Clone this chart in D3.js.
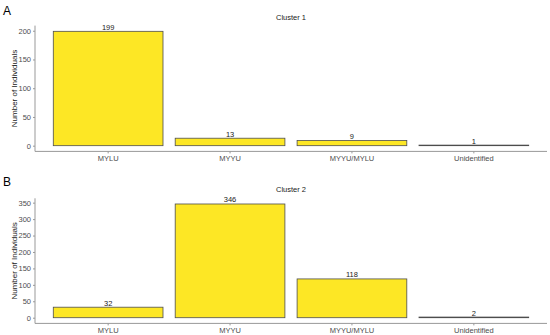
<!DOCTYPE html>
<html><head><meta charset="utf-8">
<script src="https://cdn.jsdelivr.net/npm/d3@7"></script>
<style>body{margin:0;background:#fff;}svg{display:block;font-family:"Liberation Sans",Arial,sans-serif;}</style>
</head><body>
<svg id="c" width="550" height="335"></svg>
<script>
const categories = ["MYLU", "MYYU", "MYYU/MYLU", "Unidentified"];
const cluster1 = [199, 13, 9, 1];
const cluster2 = [32, 346, 118, 2];
const yTicks1 = [0, 50, 100, 150, 200];
const yTicks2 = [0, 50, 100, 150, 200, 250, 300, 350];
const panelLabels = ["A", "B"];
const titles = ["Cluster 1", "Cluster 2"];

const svg = d3.select("#c");
const left = 35, right = 547;

function panel(values, ticks, top, bottom, letter, title, letterY, titleY) {
  const g = svg.append("g");
  const max = d3.max(values);
  const x = d3.scaleBand().domain(categories).range([left, right]).paddingInner(0.1).paddingOuter(0.15);
  const y = d3.scaleLinear().domain([-0.05 * max, max * 1.05]).range([bottom, top]);

  g.selectAll("rect").data(values).join("rect")
    .attr("x", (d, i) => x(categories[i]))
    .attr("width", x.bandwidth())
    .attr("y", d => y(d))
    .attr("height", d => y(0) - y(d))
    .attr("fill", "#FDE725")
    .attr("stroke", "#4d4d4d")
    .attr("stroke-width", 0.8);

  g.selectAll("text.val").data(values).join("text")
    .attr("class", "val")
    .attr("x", (d, i) => x(categories[i]) + x.bandwidth() / 2)
    .attr("y", d => y(d) - 1.5)
    .attr("text-anchor", "middle")
    .attr("font-size", 7.5)
    .attr("fill", "#1a1a1a")
    .text(d => d);

  const ya = g.append("g").attr("transform", `translate(${left},0)`)
    .call(d3.axisLeft(y).tickValues(ticks).tickSize(2).tickPadding(2));
  ya.select(".domain").attr("stroke", "#999").attr("d", `M0,${top}V${bottom}`);
  ya.selectAll(".tick line").attr("stroke", "#999");
  ya.selectAll(".tick text").attr("font-size", 7.5).attr("fill", "#4d4d4d").attr("font-family", "Liberation Sans, Arial, sans-serif");

  const xa = g.append("g").attr("transform", `translate(0,${bottom})`)
    .call(d3.axisBottom(x).tickSize(2).tickPadding(2));
  xa.select(".domain").attr("stroke", "#999").attr("d", `M${left},0H${right}`);
  xa.selectAll(".tick line").attr("stroke", "#999");
  xa.selectAll(".tick text").attr("font-size", 7.5).attr("fill", "#4d4d4d").attr("font-family", "Liberation Sans, Arial, sans-serif");

  g.append("text").attr("transform", `translate(14,${(top + bottom) / 2}) rotate(-90)`)
    .attr("text-anchor", "middle").attr("font-size", 8).attr("fill", "#1a1a1a")
    .attr("dy", "0.35em").text("Number of Individuals");

  g.append("text").attr("x", (left + right) / 2).attr("y", titleY)
    .attr("text-anchor", "middle").attr("font-size", 7.5).attr("fill", "#1a1a1a").text(title);

  g.append("text").attr("x", 3).attr("y", letterY)
    .attr("font-size", 12).attr("fill", "#000").text(letter);
}

panel(cluster1, yTicks1, 25.6, 151.4, panelLabels[0], titles[0], 15, 20);
panel(cluster2, yTicks2, 198.3, 323.4, panelLabels[1], titles[1], 186, 192);
</script>
</body></html>
